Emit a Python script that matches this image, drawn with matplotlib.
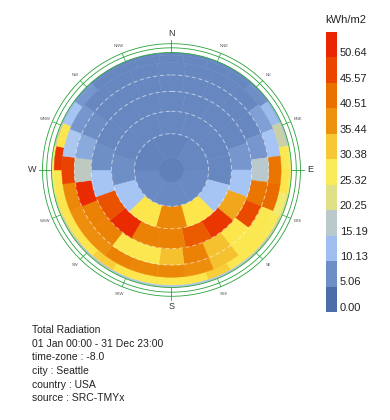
import numpy as np
import matplotlib.pyplot as plt
from matplotlib.colors import LinearSegmentedColormap, Normalize

# Tregenza sky patches: altitude bands (deg) and patch values (kWh/m2),
# listed clockwise from North, first patch centred on North
band_alt = [(0, 12), (12, 24), (24, 36), (36, 48), (48, 60), (60, 72), (72, 84), (84, 90)]

band0 = [4, 4, 4, 4, 5, 9, 16, 22, 22, 20, 18, 16, 15, 14, 13,
         13, 13, 14, 15, 16, 18, 20, 22, 22, 18, 10, 6, 4, 4, 4]
band1 = [4, 4, 4, 4, 5, 10, 18, 27, 28, 22, 26, 27, 27, 30, 28,
         27, 27, 28, 30, 28, 27, 28, 27, 48, 28, 11, 6, 4, 4, 4]
band2 = [4, 4, 4, 4, 7, 11, 40, 41, 27, 27, 31, 36,
         37, 37, 38, 36, 36, 37, 46, 12, 6, 4, 4, 4]
band3 = [4, 4, 4, 4, 4, 6, 15, 40, 45, 28, 31, 38,
         31, 27, 27, 38, 38, 50, 16, 8, 5, 4, 4, 4]
band4 = [4, 4, 4, 4, 6, 11, 33, 48, 43, 38, 38, 50, 44, 11, 5, 4, 4, 4]
band5 = [4, 4, 4, 4, 11, 28, 37, 28, 11, 5, 4, 4]
band6 = [3.5, 4, 4.5, 4.5, 4.5, 3.5]
band7 = [3]
bands = [band0, band1, band2, band3, band4, band5, band6, band7]

legend_values = [0.00, 5.06, 10.13, 15.19, 20.25, 25.32, 30.38, 35.44, 40.51, 45.57, 50.64]
directions = ['N', 'NNE', 'NE', 'ENE', 'E', 'ESE', 'SE', 'SSE',
              'S', 'SSW', 'SW', 'WSW', 'W', 'WNW', 'NW', 'NNW']
info_lines = ['Total Radiation', '01 Jan 00:00 - 31 Dec 23:00', 'time-zone : -8.0',
              'city : Seattle', 'country : USA', 'source : SRC-TMYx']

lb_colors = [(75, 107, 169), (115, 147, 202), (170, 200, 247), (193, 201, 182),
             (245, 239, 103), (252, 230, 74), (239, 156, 21), (234, 123, 0),
             (234, 74, 0), (234, 38, 0)]
cmap = LinearSegmentedColormap.from_list('lb', [tuple(c / 255 for c in col) for col in lb_colors])
norm = Normalize(legend_values[0], legend_values[-1])

plt.rcParams['font.family'] = ['Liberation Sans', 'DejaVu Sans']

fig = plt.figure(figsize=(3.9, 4.2), dpi=100)

# sky dome (orthographic projection: r = cos(altitude))
ax = fig.add_axes([0.132, 0.3155, 0.6154, 0.5595], projection='polar')
ax.set_aspect('auto')
ax.set_theta_zero_location('N')
ax.set_theta_direction(-1)

for (a0, a1), vals in zip(band_alt, bands):
    n = len(vals)
    w = 2 * np.pi / n
    theta = np.arange(n) * w
    r_in = np.cos(np.radians(a1))
    r_out = np.cos(np.radians(a0))
    cols = cmap(norm(np.array(vals)))
    ax.bar(theta, r_out - r_in, width=w, bottom=r_in, color=cols,
           edgecolor=cols, linewidth=0.3, align='center')

circ = np.linspace(0, 2 * np.pi, 400)
for alt in [36, 48, 60, 72]:
    ax.plot(circ, np.full_like(circ, np.cos(np.radians(alt))), color='white',
            lw=0.7, ls=(0, (4, 3)), alpha=0.55)

green = '#27a23a'
for rr in [1.0, 1.04, 1.075]:
    ax.plot(circ, np.full_like(circ, rr), color=green, lw=0.6, clip_on=False)

for i, d in enumerate(directions):
    th = np.radians(i * 22.5)
    if len(d) == 1:
        ax.plot([th, th], [1.0, 1.105], color=green, lw=0.6, clip_on=False)
        ax.text(th, 1.16, d, fontsize=6.5, color='#333333', ha='center', va='center')
    else:
        ax.plot([th, th], [1.0, 1.075], color=green, lw=0.5, clip_on=False)
        ax.text(th, 1.14, d, fontsize=3, color='#555555', ha='center', va='center')

ax.set_ylim(0, 1)
ax.set_axis_off()

# legend
cax = fig.add_axes([326 / 390, (420 - 312) / 420, 11 / 390, 280 / 420])
for i, v in enumerate(legend_values):
    cax.bar(0, 1, bottom=i, width=1, color=cmap(norm(v)), edgecolor='none')
    cax.text(1.25, i + 0.16, f'{v:.2f}', transform=cax.get_yaxis_transform(),
             fontsize=8, color='#222222', va='center', ha='left')
cax.set_xlim(-0.5, 0.5)
cax.set_ylim(0, len(legend_values))
cax.set_axis_off()
fig.text(325 / 390, 1 - 20 / 420, 'kWh/m2', fontsize=8, color='#222222', va='center', ha='left')

for k, line in enumerate(info_lines):
    fig.text(32 / 390, 1 - (330 + k * 13.65) / 420, line, fontsize=7.5,
             color='#222222', va='center', ha='left')

fig.savefig('out.png', dpi=100)
